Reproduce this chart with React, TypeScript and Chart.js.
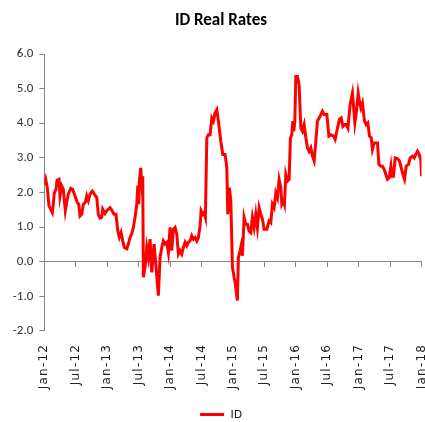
import { useEffect, useRef } from "react";
import { Chart, registerables, LinearScale } from "chart.js";

// Linear scale whose tick labels are drawn with a little letter spacing
class SpacedLinearScale extends LinearScale {
  static id = "spacedLinear";
  static defaults = (LinearScale as any).defaults;
  drawLabels(chartArea: any) {
    const ctx = this.ctx as any;
    ctx.save();
    ctx.letterSpacing = "1.2px";
    (LinearScale.prototype as any).drawLabels.call(this, chartArea);
    ctx.restore();
  }
}

// Linear scale whose tick labels may extend beyond the axis box
class NoClipLinearScale extends LinearScale {
  static id = "noClipLinear";
  static defaults = (LinearScale as any).defaults;
  _computeLabelArea() {
    return undefined as any;
  }
}

Chart.register(...registerables, SpacedLinearScale, NoClipLinearScale);

// Time of each observation, in months since January 2012
const monthsSinceJan12 = [
  0.0, 0.27, 0.57, 0.9, 1.22, 1.53, 1.72, 1.91, 2.23, 2.43, 2.81, 3.0, 3.32, 3.63, 4.01, 4.28, 4.58, 5.04, 5.42, 5.86,
  6.3, 6.57, 6.82, 7.14, 7.45, 7.83, 8.1, 8.4, 8.73, 9.17, 9.55, 10.01, 10.31, 10.64, 10.96, 11.15, 11.59, 11.92,
  12.22, 12.55, 12.87, 13.31, 13.69, 14.02, 14.32, 14.65, 14.97, 15.28, 15.74, 16.04, 16.37, 16.69, 17.0, 17.32,
  17.65, 17.84, 18.03, 18.14, 18.41, 18.6, 18.79, 18.91, 19.23, 19.56, 19.86, 20.19, 20.51, 20.95, 21.33, 21.77,
  22.1, 22.42, 22.73, 23.05, 23.38, 23.68, 24.01, 24.33, 24.64, 24.96, 25.29, 25.59, 25.92, 26.24, 26.55, 26.87,
  27.2, 27.5, 27.83, 28.15, 28.46, 28.78, 29.11, 29.41, 29.74, 29.93, 30.25, 30.5, 30.75, 31.02, 31.32, 31.65,
  31.97, 32.28, 32.6, 32.93, 33.23, 33.69, 34.07, 34.51, 34.84, 35.03, 35.33, 35.6, 35.91, 36.23, 36.42, 36.86,
  37.05, 37.38, 37.57, 37.82, 38.14, 38.46, 38.77, 39.09, 39.42, 39.72, 40.05, 40.37, 40.68, 41.01, 41.33, 41.63,
  41.96, 42.48, 42.91, 43.24, 43.54, 43.87, 44.19, 44.5, 44.82, 45.15, 45.34, 45.65, 45.84, 46.1, 46.41, 46.73,
  46.98, 47.25, 47.44, 47.63, 47.82, 48.01, 48.32, 48.64, 48.97, 49.27, 49.6, 49.92, 50.23, 50.55, 50.88, 51.18,
  51.51, 51.83, 52.14, 52.46, 52.79, 53.09, 53.42, 53.93, 54.32, 54.7, 55.19, 55.52, 55.96, 56.34, 56.67, 56.99,
  57.3, 57.62, 57.95, 58.38, 58.82, 59.01, 59.28, 59.59, 59.91, 60.16, 60.43, 60.73, 61.12, 61.44, 61.76, 62.07,
  62.4, 62.64, 62.97, 63.29, 63.6, 63.87, 64.25, 64.55, 64.88, 65.2, 65.51, 65.83, 66.16, 66.35, 66.65, 66.98,
  67.42, 67.8, 68.13, 68.45, 68.76, 69.08, 69.52, 69.84, 70.28, 70.61, 70.93, 71.24, 71.56, 71.89, 72.0,
];

// ID real rate (%)
const idRealRates = [
  2.22, 2.38, 2.14, 1.61, 1.52, 1.42, 1.66, 1.99, 2.09, 2.35, 2.38, 1.9, 2.19, 2.09, 1.47, 1.71, 1.95, 2.12, 2.09, 1.9,
  1.71, 1.66, 1.32, 1.37, 1.66, 1.71, 1.9, 1.76, 1.95, 2.04, 1.95, 1.85, 1.37, 1.26, 1.28, 1.52, 1.39, 1.47,
  1.52, 1.56, 1.49, 1.37, 1.37, 0.89, 0.7, 0.84, 0.6, 0.41, 0.37, 0.51, 0.7, 0.8, 0.99, 1.28,
  1.66, 2.19, 1.66, 2.33, 2.71, 2.28, 2.47, -0.45, -0.16, 0.41, 0.12, 0.65, -0.31, 0.51, -0.16, -0.98,
  0.12, 0.41, 0.6, 0.51, 0.56, 0.27, 0.99, 0.32, 0.94, 0.99, 0.8, 0.22, 0.32, 0.22, 0.41, 0.56,
  0.46, 0.56, 0.6, 0.75, 0.65, 0.7, 0.6, 0.7, 1.04, 1.47, 1.37, 1.42, 1.28, 3.58, 3.67, 3.67,
  4.15, 4.06, 4.3, 4.39, 4.06, 3.48, 3.1, 3.1, 2.71, 1.37, 2.14, 1.76, -0.16, -0.45, -0.6, -1.12,
  0.12, 0.32, 0.46, 0.17, 1.28, 1.08, 1.08, 0.89, 0.84, 1.28, 0.99, 1.37, 0.99, 1.56, 1.37, 1.23,
  0.94, 0.94, 1.18, 1.13, 1.66, 1.56, 1.99, 1.85, 2.38, 2.14, 1.66, 1.76, 1.66, 2.52, 2.33, 2.38,
  3.58, 3.67, 4.06, 3.77, 4.06, 5.35, 5.35, 5.11, 3.86, 3.77, 3.96, 3.58, 3.29, 3.19, 3.29, 3.05,
  2.91, 3.48, 4.06, 4.15, 4.25, 4.35, 4.25, 4.25, 3.63, 3.67, 3.63, 3.53, 3.86, 4.11, 4.15, 3.91,
  3.96, 3.96, 3.86, 4.54, 4.87, 4.54, 4.01, 4.35, 4.87, 4.63, 4.44, 4.58, 4.06, 3.96, 4.01, 3.63,
  3.58, 3.24, 3.43, 3.43, 3.43, 2.81, 2.76, 2.76, 2.67, 2.52, 2.38, 2.43, 2.76, 2.47, 2.47, 3.0,
  2.98, 2.91, 2.71, 2.52, 2.38, 2.76, 2.81, 3.0, 3.05, 3.0, 3.1, 3.19, 3.1, 2.91, 2.47,
];

const xTickLabels = [
  "Jan-12", "Jul-12", "Jan-13", "Jul-13", "Jan-14", "Jul-14", "Jan-15",
  "Jul-15", "Jan-16", "Jul-16", "Jan-17", "Jul-17", "Jan-18",
];
const monthsPerXTick = 6;
const yTickValues = [-2, -1, 0, 1, 2, 3, 4, 5, 6];

const seriesName = "ID";
const chartTitle = "ID Real Rates";

const AXIS_GREY = "#868686";
const CALIBRI = "Carlito, 'Liberation Sans', sans-serif";

export default function App() {
  const canvasRef = useRef<HTMLCanvasElement | null>(null);

  useEffect(() => {
    if (!canvasRef.current) return;
    const xMax = (xTickLabels.length - 1) * monthsPerXTick;
    const xTicks = () => xTickLabels.map((_, i) => ({ value: i * monthsPerXTick }));
    const defaultLabels = (Chart.defaults.plugins.legend.labels as any).generateLabels;
    const chart = new Chart(canvasRef.current, {
      type: "line",
      data: {
        datasets: [
          {
            label: seriesName,
            data: monthsSinceJan12.map((m, i) => ({ x: m, y: idRealRates[i] })),
            borderColor: "#FF0000",
            backgroundColor: "#FF0000",
            borderWidth: 3,
            pointRadius: 0,
            tension: 0,
            xAxisID: "x",
            yAxisID: "y",
          },
        ],
      },
      options: {
        animation: false,
        responsive: true,
        maintainAspectRatio: false,
        layout: { padding: { left: 20.5, right: 3.5, top: 0, bottom: -9 } },
        plugins: {
          title: {
            display: true,
            text: chartTitle,
            color: "#000",
            font: { family: CALIBRI, size: 17, weight: "bold" },
            padding: { top: 11, bottom: 22.6 },
          },
          legend: {
            display: true,
            position: "bottom",
            labels: {
              boxWidth: 24,
              boxHeight: 3,
              color: "#222",
              font: { family: CALIBRI, size: 13 },
              padding: 13,
              generateLabels: (c: any) =>
                defaultLabels(c).map((l: any) => ({ ...l, lineWidth: 0 })),
            },
          },
          tooltip: { enabled: false },
        },
        scales: {
          x: {
            type: "spacedLinear" as any,
            position: "bottom",
            min: 0,
            max: xMax,
            afterBuildTicks: (s: any) => {
              s.ticks = xTicks();
            },
            afterFit: (s: any) => {
              s.paddingLeft = 0;
              s.paddingRight = 0;
            },
            ticks: {
              autoSkip: false,
              minRotation: 90,
              maxRotation: 90,
              padding: 13,
              color: "#222",
              font: { family: "'DejaVu Sans', sans-serif", size: 12 },
              callback: (v: any) => xTickLabels[Math.round(Number(v) / monthsPerXTick)],
            },
            grid: { display: false, drawTicks: false, tickLength: 0 },
            border: { display: false },
          },
          x2: {
            type: "linear",
            position: { y: 0 } as any,
            min: 0,
            max: xMax,
            afterBuildTicks: (s: any) => {
              s.ticks = xTicks();
            },
            afterFit: (s: any) => {
              s.paddingLeft = 0;
              s.paddingRight = 0;
            },
            ticks: { display: false },
            grid: { drawOnChartArea: false, drawTicks: true, tickLength: 5, color: AXIS_GREY, lineWidth: 1 },
            border: { display: true, color: AXIS_GREY, width: 1 },
          },
          y: {
            type: "noClipLinear" as any,
            min: yTickValues[0],
            max: yTickValues[yTickValues.length - 1],
            afterBuildTicks: (s: any) => {
              s.ticks = yTickValues.map((v) => ({ value: v }));
            },
            afterFit: (s: any) => {
              s.width = 23.8;
            },
            ticks: {
              padding: 6,
              color: "#333",
              font: { family: CALIBRI, size: 13 },
              callback: (v: any) => Number(v).toFixed(1),
            },
            grid: { drawOnChartArea: false, drawTicks: true, tickLength: 5, color: AXIS_GREY, lineWidth: 1 },
            border: { display: true, color: AXIS_GREY, width: 1 },
          },
        },
      },
    });
    return () => chart.destroy();
  }, []);

  return (
    <div style={{ position: "fixed", left: 0, top: 0, width: 425, height: 422, background: "#fff" }}>
      <canvas ref={canvasRef} />
    </div>
  );
}
